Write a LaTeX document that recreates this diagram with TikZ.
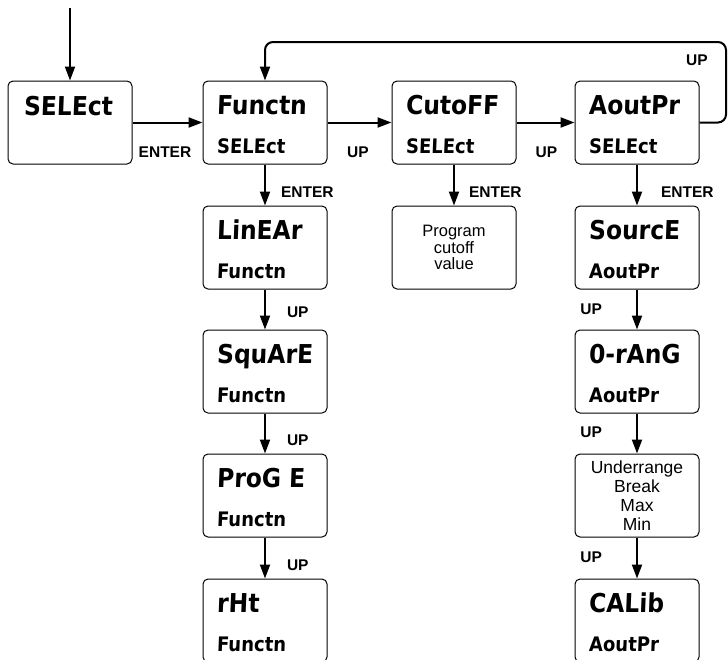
\documentclass[tikz,border=0pt]{standalone}
\usepackage{fontspec}
\setmainfont{Liberation Sans}
\newfontfamily\dispfont{DejaVu Sans Condensed}[FakeSlant=0.04]
\usepackage{tikz}
\usetikzlibrary{arrows.meta, positioning, calc}

\tikzset{
  dbox/.style={draw, line width=1pt, rounded corners=5pt, minimum width=124pt, minimum height=83pt, inner sep=0pt},
  bigdisp/.style={anchor=base west, inner sep=0pt, font=\dispfont\bfseries\fontsize{26}{26}\selectfont},
  smalldisp/.style={anchor=base west, inner sep=0pt, font=\dispfont\bfseries\fontsize{20}{20}\selectfont},
  lbl/.style={inner sep=0pt, font=\bfseries\fontsize{15.5}{15.5}\selectfont},
  arr/.style={-{Triangle[length=14pt, width=10pt]}, line width=2pt}
}

% display box: name, position, top line, bottom line
\newcommand{\dispbox}[4]{%
  \node[dbox] (#1) at (#2) {};
  \node[bigdisp] (#1-a) at ($(#1.north west)+(14,34)$) {#3};
  \node[smalldisp] (#1-b) at ($(#1.north west)+(14,73)$) {#4};
}

\begin{document}
\begin{tikzpicture}[x=1pt, y=-1pt, thick]
    \useasboundingbox (0,0) rectangle (728,659);
    \clip (0,0) rectangle (728,659);

    % 1. TOP ROW (SELECT MENU)
    \node[dbox] (sel) at (70,122.5) {};
    \node[bigdisp] (sel-a) at ($(sel.north west)+(16,35)$) {SELEct};
    \dispbox{fsel}{265,122.5}{Functn}{SELEct}
    \dispbox{csel}{454,122.5}{CutoFF}{SELEct}
    \dispbox{asel}{637,122.5}{AoutPr}{SELEct}

    % 2. FUNCTION COLUMN
    \dispbox{lin}{265,247.5}{LinEAr}{Functn}
    \dispbox{squ}{265,371.5}{SquArE}{Functn}
    \dispbox{prog}{265,495.5}{ProG E}{Functn}
    \dispbox{rht}{265,620.5}{rHt}{Functn}

    % 3. CUTOFF COLUMN
    \node[dbox, align=center, font=\fontsize{16.5}{16.7}\selectfont] (cut) at (454,247.5) {Program\\cutoff\\value};

    % 4. ANALOG OUTPUT COLUMN
    \dispbox{src}{637,247.5}{SourcE}{AoutPr}
    \dispbox{orng}{637,371.5}{0-rAnG}{AoutPr}
    \node[dbox, align=center, font=\fontsize{17.5}{19}\selectfont] (undr) at (637,495.5) {Underrange\\Break\\Max\\Min};
    \dispbox{cal}{637,620.5}{CALib}{AoutPr}

    % 5. CONNECTORS
    \coordinate (start) at (70,8);
    \draw[arr] (start) -- (sel);
    \draw[arr] (sel) -- node[lbl, xshift=-2.5pt, yshift=-29.5pt] (k1) {ENTER} (fsel);
    \draw[arr] (fsel) -- node[lbl, xshift=-1.5pt, yshift=-29.5pt] (k2) {UP} (csel);
    \draw[arr] (csel) -- node[lbl, xshift=1pt, yshift=-29.5pt] (k3) {UP} (asel);

    \coordinate (loopR) at (726,42);
    \draw[arr, rounded corners=8pt] (asel.east) -| (loopR) -| (fsel.north);
    \node[lbl] (kloop) at (697,60) {UP};

    \draw[arr] (fsel) -- node[lbl, anchor=west, xshift=15pt, yshift=-7pt] (k4) {ENTER} (lin);
    \draw[arr] (lin) -- node[lbl, anchor=west, xshift=21pt, yshift=-3pt] (k5) {UP} (squ);
    \draw[arr] (squ) -- node[lbl, anchor=west, xshift=21pt, yshift=-6.5pt] (k6) {UP} (prog);
    \draw[arr] (prog) -- node[lbl, anchor=west, xshift=21pt, yshift=-7pt] (k7) {UP} (rht);

    \draw[arr] (csel) -- node[lbl, anchor=west, xshift=14pt, yshift=-7pt] (k8) {ENTER} (cut);

    \draw[arr] (asel) -- node[lbl, anchor=west, xshift=23pt, yshift=-7pt] (k9) {ENTER} (src);
    \draw[arr] (src) -- node[lbl, anchor=east, xshift=-34pt] (k10) {UP} (orng);
    \draw[arr] (orng) -- node[lbl, anchor=east, xshift=-34pt, yshift=1.5pt] (k11) {UP} (undr);
    \draw[arr] (undr) -- node[lbl, anchor=east, xshift=-34pt, yshift=1pt] (k12) {UP} (cal);

\end{tikzpicture}
\end{document}
